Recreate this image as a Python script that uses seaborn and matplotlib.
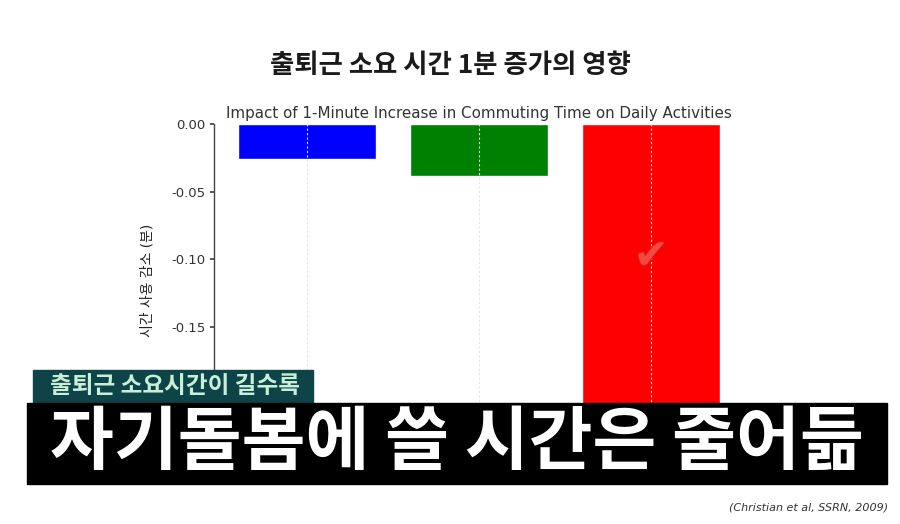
import matplotlib.pyplot as plt
import matplotlib.patheffects as pe
import pandas as pd
import seaborn as sns
from matplotlib.patches import Rectangle

sns.set_theme(style="white")
plt.rcParams["font.family"] = ["DejaVu Sans", "Noto Sans CJK KR"]

# data (minutes of daily activity lost per extra commuting minute)
activities = ["운동", "식사 준비", "수면"]
change = [-0.0257, -0.0387, -0.2205]
bar_colors = ["blue", "green", "red"]

suptitle = "출퇴근 소요 시간 1분 증가의 영향"
title = "Impact of 1-Minute Increase in Commuting Time on Daily Activities"
ylabel = "시간 사용 감소 (분)"
caption_top = "출퇴근 소요시간이 길수록"
caption_main = "자기돌봄에 쓸 시간은 줄어듦"
source = "(Christian et al, SSRN, 2009)"

df = pd.DataFrame({"activity": activities, "change": change})

fig = plt.figure(figsize=(9, 5.24), dpi=100)
ax = fig.add_axes([214 / 900, 1 - 437 / 524, 530 / 900, 313 / 524])

sns.barplot(data=df, x="activity", y="change", hue="activity",
            palette=bar_colors, width=0.8, saturation=1, legend=False, ax=ax)

ax.set_xlim(-0.54, 2.54)
ax.set_ylim(-0.2315, 0)
# the -0.20 tick sits under the caption box, so only the visible ones
yt = [0, -0.05, -0.10, -0.15]
ax.set_yticks(yt)
ax.set_yticklabels([f"{v:.2f}" for v in yt])
ax.tick_params(axis="y", left=True, length=3, color="#444444", labelsize=9.5,
               labelcolor="#333333", pad=3)
ax.tick_params(axis="x", labelbottom=False, bottom=False)
ax.set_xlabel("")
ax.set_ylabel(ylabel, fontsize=10, color="#222222", labelpad=12)
ax.set_title(title, fontsize=10.9, color="#333333", pad=4)

for s in ["top", "right", "bottom"]:
    ax.spines[s].set_visible(False)
ax.spines["left"].set_color("#444444")
ax.spines["left"].set_linewidth(1)

# vertical guides drawn over the bars
for xpos in range(len(activities)):
    ax.axvline(xpos, color="#e4e4e4", lw=0.8, ls=(0, (2, 2)), zorder=5)

ax.text(2, -0.098, "✔", fontsize=30, color="#f5483f", ha="center", va="center",
        zorder=6, path_effects=[pe.withStroke(linewidth=1.5, foreground="#d21c1c")])

fig.suptitle(suptitle, y=0.9, fontsize=19, fontweight="bold",
             family=["Noto Sans CJK KR", "DejaVu Sans"], color="#1a1a1a")

# subtitle overlays
fig.add_artist(Rectangle((33 / 900, 1 - 403 / 524), 280 / 900, 33 / 524,
                         transform=fig.transFigure, color="#0e4447", zorder=10))
fig.text(175 / 900, 1 - 386 / 524, caption_top, fontsize=17, color="#c8f0d8",
         fontweight="bold", family=["Noto Sans CJK KR"], ha="center",
         va="center", zorder=11)
fig.add_artist(Rectangle((27 / 900, 1 - 484 / 524), 860 / 900, 81 / 524,
                         transform=fig.transFigure, color="black", zorder=10))
fig.text(457 / 900, 1 - 444 / 524, caption_main, fontsize=50, color="white",
         fontweight="bold", family=["Noto Sans CJK KR"], ha="center",
         va="center", zorder=11)

fig.text(888 / 900, 1 - 507 / 524, source, fontsize=8, style="italic",
         color="#333333", ha="right", va="center")

fig.savefig("out.png", dpi=100)
